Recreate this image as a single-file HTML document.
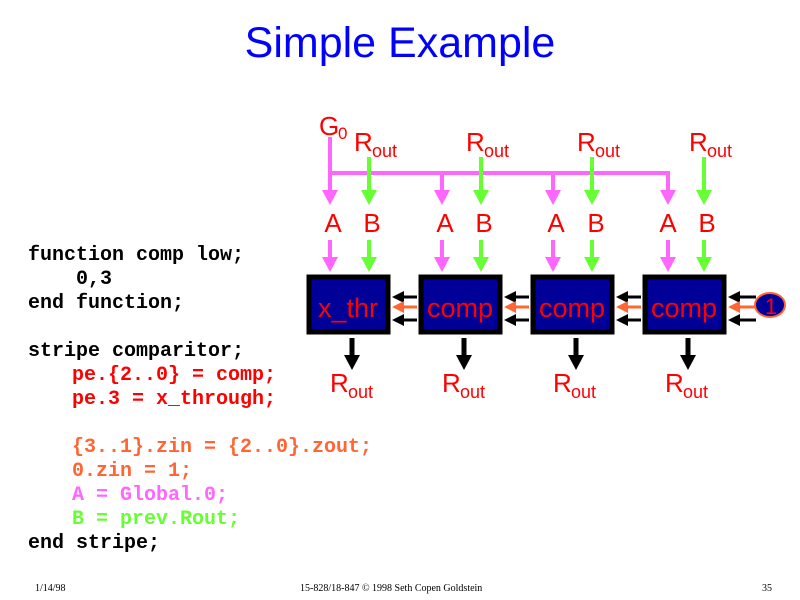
<!DOCTYPE html>
<html><head><meta charset="utf-8"><style>
html,body{margin:0;padding:0;background:#fff;}
svg{display:block;}
.code{font-family:"Liberation Mono",monospace;font-weight:bold;font-size:20px;}
.lab{font-family:"Liberation Sans",sans-serif;fill:#ff0000;}
</style></head><body>
<svg id="s" width="800" height="600" viewBox="0 0 800 600" xmlns="http://www.w3.org/2000/svg">
<text x="400" y="57" text-anchor="middle" font-family="Liberation Sans, sans-serif" font-size="43" fill="#0000ff">Simple Example</text>

<g class="code">
<text x="28" y="260" fill="#000">function comp low;</text>
<text x="76" y="284" fill="#000">0,3</text>
<text x="28" y="308" fill="#000">end function;</text>
<text x="28" y="356" fill="#000">stripe comparitor;</text>
<text x="72" y="380" fill="#ff0000">pe.{2..0} = comp;</text>
<text x="72" y="404" fill="#ff0000">pe.3 = x_through;</text>
<text x="72" y="452" fill="#ff6633">{3..1}.zin = {2..0}.zout;</text>
<text x="72" y="476" fill="#ff6633">0.zin = 1;</text>
<text x="72" y="500" fill="#ff66ff">A = Global.0;</text>
<text x="72" y="524" fill="#66ff33">B = prev.Rout;</text>
<text x="28" y="548" fill="#000">end stripe;</text>
</g>

<g font-family="Liberation Serif, serif" font-size="10" fill="#000">
<text x="35" y="591">1/14/98</text>
<text x="300" y="591">15-828/18-847 © 1998 Seth Copen Goldstein</text>
<text x="762" y="591">35</text>
</g>

<rect x="328" y="171" width="342" height="4" fill="#ff66ff"/>
<rect x="328" y="137" width="4" height="36" fill="#ff66ff"/>
<g id="shapes"></g>

<g class="lab">
<text x="319" y="135" font-size="26">G</text><text x="338" y="139" font-size="17">0</text>
<text x="354" y="151" font-size="26">R</text><text x="372" y="157" font-size="18">out</text>
<text x="466" y="151" font-size="26">R</text><text x="484" y="157" font-size="18">out</text>
<text x="577" y="151" font-size="26">R</text><text x="595" y="157" font-size="18">out</text>
<text x="689" y="151" font-size="26">R</text><text x="707" y="157" font-size="18">out</text>

<text x="333" y="232" font-size="26" text-anchor="middle">A</text><text x="372" y="232" font-size="26" text-anchor="middle">B</text>
<text x="445" y="232" font-size="26" text-anchor="middle">A</text><text x="484" y="232" font-size="26" text-anchor="middle">B</text>
<text x="556" y="232" font-size="26" text-anchor="middle">A</text><text x="596" y="232" font-size="26" text-anchor="middle">B</text>
<text x="668" y="232" font-size="26" text-anchor="middle">A</text><text x="707" y="232" font-size="26" text-anchor="middle">B</text>

<text x="330" y="392" font-size="26">R</text><text x="348" y="398" font-size="18">out</text>
<text x="442" y="392" font-size="26">R</text><text x="460" y="398" font-size="18">out</text>
<text x="553" y="392" font-size="26">R</text><text x="571" y="398" font-size="18">out</text>
<text x="665" y="392" font-size="26">R</text><text x="683" y="398" font-size="18">out</text>

<text x="348" y="317" font-size="27" text-anchor="middle">x_thr</text>
<text x="460" y="317" font-size="27" text-anchor="middle">comp</text>
<text x="572" y="317" font-size="27" text-anchor="middle">comp</text>
<text x="684" y="317" font-size="27" text-anchor="middle">comp</text>
<text x="771" y="314" font-size="22" text-anchor="middle">1</text>
</g>
</svg>
<script>
var g=document.getElementById('shapes'),NS='http://www.w3.org/2000/svg';
function el(t,a){var e=document.createElementNS(NS,t);for(var k in a)e.setAttribute(k,a[k]);g.appendChild(e);}
function down(x,y1,y2,c,w){w=w||4;el('rect',{x:x-w/2,y:y1,width:w,height:y2-y1-14,fill:c});el('polygon',{points:(x-8)+','+(y2-15)+' '+(x+8)+','+(y2-15)+' '+x+','+y2,fill:c});}
function left(x1,x2,y,c){el('rect',{x:x2+10,y:y-1.5,width:x1-x2-10,height:3,fill:c});el('polygon',{points:(x2+12)+','+(y-6)+' '+(x2+12)+','+(y+6)+' '+x2+','+y,fill:c});}
var boxes=[307,419,531,643],pinks=[330,442,553,668],greens=[369,481,592,704];
for(var i=0;i<4;i++){
 var bx=boxes[i];
 el('rect',{x:bx+2,y:277,width:79,height:55,fill:'#000099',stroke:'#000',"stroke-width":5});
 down(pinks[i],i==0?173:175,205,'#ff66ff');
 down(greens[i],157,205,'#66ff33');
 down(pinks[i],240,272,'#ff66ff');
 down(greens[i],240,272,'#66ff33');
 down(bx+45,338,370,'#000',5);
 var rx=(i<3?boxes[i+1]-2:756), lx=bx+85;
 left(rx,lx,297,'#000');left(rx,lx,320,'#000');left(rx,lx,307,'#ff6633');
}
el('ellipse',{cx:770,cy:305,rx:15,ry:12,fill:'#000099',stroke:'#ff6633',"stroke-width":2});
</script>
</body></html>
